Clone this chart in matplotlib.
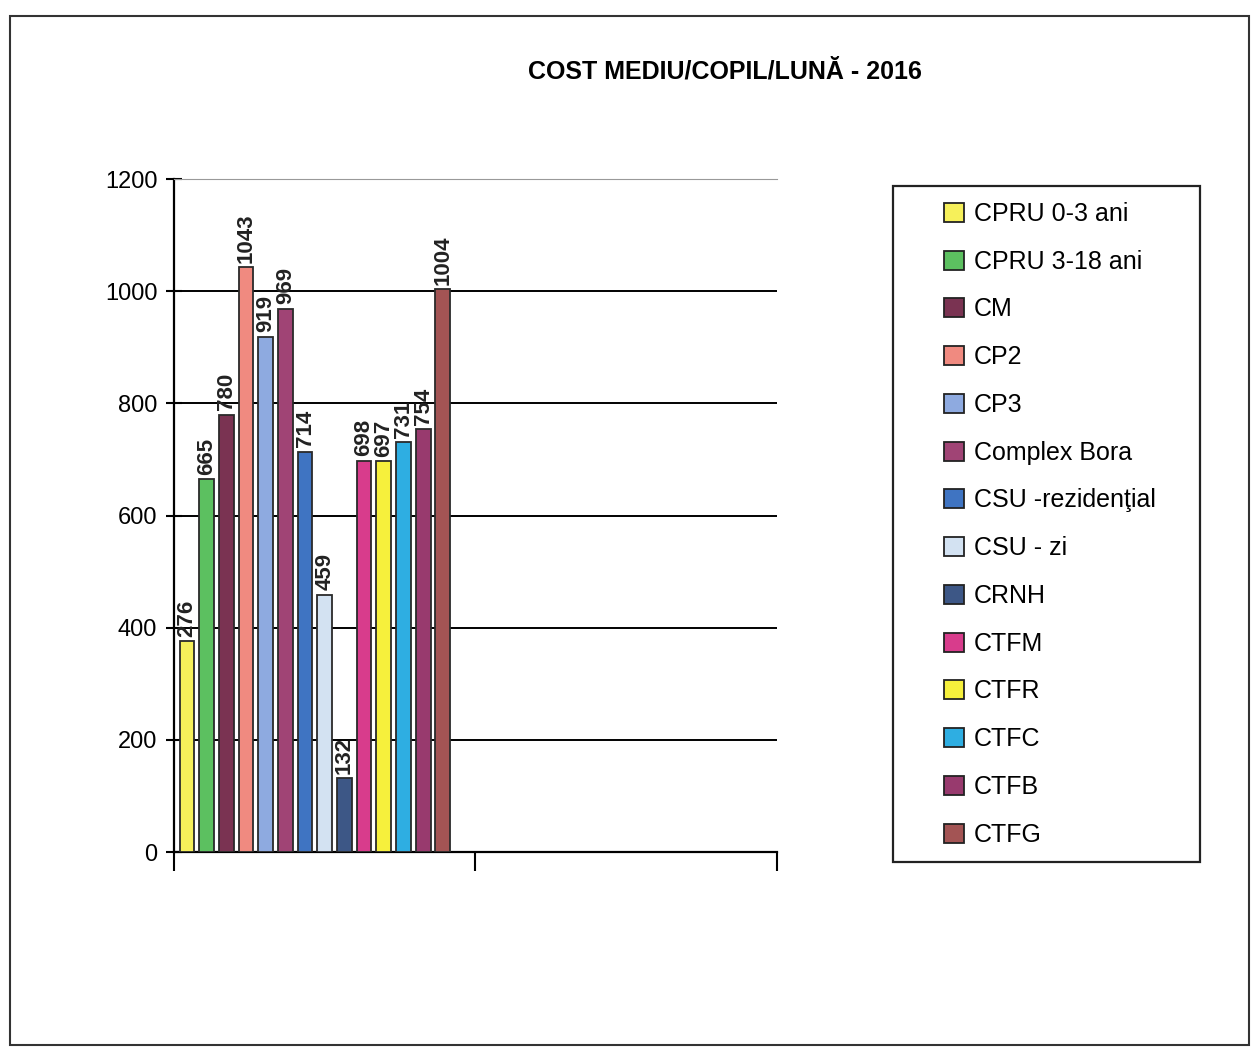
import numpy as np
import matplotlib.pyplot as plt
from matplotlib.patches import Rectangle, Patch

# data
centres = ['CPRU 0-3 ani', 'CPRU 3-18 ani', 'CM', 'CP2', 'CP3', 'Complex Bora',
           'CSU -rezidenţial', 'CSU - zi', 'CRNH', 'CTFM', 'CTFR', 'CTFC', 'CTFB', 'CTFG']
costs = [376, 665, 780, 1043, 919, 969, 714, 459, 132, 698, 697, 731, 754, 1004]
value_labels = ['276', '665', '780', '1043', '919', '969', '714', '459', '132',
                '698', '697', '731', '754', '1004']
colors = ['#f6f05a', '#5cc060', '#7a3352', '#f08a80', '#8eaae0', '#a04475',
          '#3f74c2', '#d3e2f2', '#3d5786', '#d83c8c', '#f6f03c', '#2eaee2',
          '#983a6e', '#a35454']
yticks = [0, 200, 400, 600, 800, 1000, 1200]

plt.rcParams['font.family'] = ['Liberation Sans Narrow', 'Liberation Sans', 'DejaVu Sans']

fig = plt.figure(figsize=(12.55, 10.48), dpi=100)
# scanned page border
fig.patches.append(Rectangle((0.008, 0.003), 0.987, 0.982, transform=fig.transFigure,
                             fill=False, edgecolor='#333333', linewidth=1.5))
ax = fig.add_axes([0.1386, 0.187, 0.4805, 0.642])

n = len(costs)
step = 0.0653
width = 0.049
first = 0.043
for i in range(n):
    x = first + i * step
    ax.bar(x, costs[i], width=width, color=colors[i], edgecolor='#2a2a2a', linewidth=1.3, zorder=3)
    ax.text(x, costs[i] + 8, value_labels[i], rotation=90, ha='center', va='bottom',
            fontsize=16, fontweight='bold', color='#222222', zorder=4)

ax.set_xlim(0, 2)
ax.set_ylim(0, 1200)
ax.set_yticks(yticks)
ax.set_yticklabels([str(t) for t in yticks], fontsize=17)
ax.set_xticks([0, 1, 2])
ax.set_xticklabels(['', '', ''])
ax.tick_params(axis='y', direction='inout', length=12, width=1.5, pad=6)
ax.tick_params(axis='x', direction='out', length=14, width=1.5)
ax.grid(axis='y', color='black', linewidth=1.4, zorder=1)
ax.set_axisbelow(True)
for s in ['left', 'bottom']:
    ax.spines[s].set_linewidth(1.6)
ax.spines['top'].set_color('#999999')
ax.spines['right'].set_visible(False)

fig.text(0.578, 0.932, 'COST MEDIU/COPIL/LUNĂ - 2016', ha='center', va='center',
         fontsize=18, fontweight='bold')

# legend box drawn separately so the entries can sit indented like the original
fig.patches.append(Rectangle((893 / 1255, 1 - 862 / 1048), 307 / 1255, 676 / 1048,
                             transform=fig.transFigure, fill=False,
                             edgecolor='#222222', linewidth=1.6))
handles = [Patch(facecolor=colors[i], edgecolor='#222222', linewidth=1.3, label=centres[i])
           for i in range(n)]
fig.legend(handles=handles, loc='upper left',
           bbox_to_anchor=(944 / 1255, 1 - 202 / 1048),
           fontsize=18, frameon=False,
           handlelength=0.8, handleheight=0.8, handletextpad=0.4,
           labelspacing=0.95, borderpad=0, borderaxespad=0)

fig.savefig('out.png', dpi=100)
